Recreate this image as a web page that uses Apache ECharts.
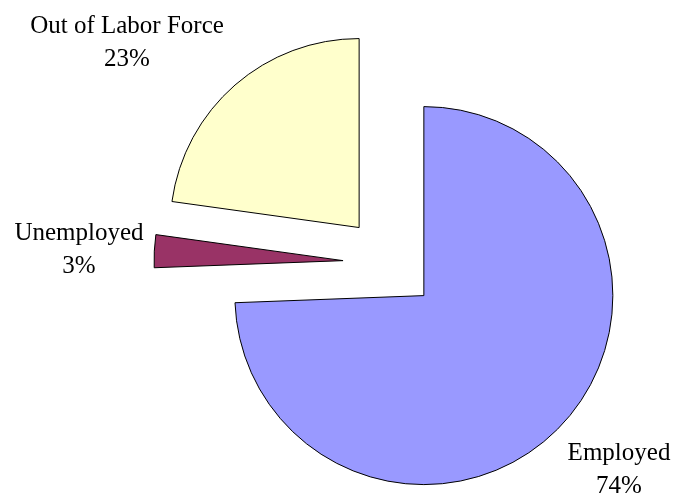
<!DOCTYPE html>
<html>
<head>
<meta charset="utf-8">
<script src="https://cdn.jsdelivr.net/npm/echarts@6/dist/echarts.min.js"></script>
<style>
  html, body { margin: 0; padding: 0; background: #fff; }
  #main { width: 675px; height: 496px; }
</style>
</head>
<body>
<div id="main"></div>
<script>
var categories = ['Employed', 'Unemployed', 'Out of Labor Force'];
var shares = [74.4, 2.8, 22.8];
var sliceColors = ['#9999ff', '#993366', '#ffffcc'];
// label block centers
var labelSpots = [[619, 470], [79, 250], [127, 43]];

var myChart = echarts.init(document.getElementById('main'));

var total = shares.reduce(function (a, b) { return a + b; }, 0);

var pieData = categories.map(function (name, i) {
    return {
        name: name,
        value: shares[i],
        selected: true,
        itemStyle: { color: sliceColors[i] }
    };
});

var labelTexts = categories.map(function (name, i) {
    return {
        type: 'text',
        x: labelSpots[i][0],
        y: labelSpots[i][1],
        silent: true,
        style: {
            text: name + '\n' + Math.round(shares[i] / total * 100) + '%',
            font: '25px "Liberation Serif", "Times New Roman", serif',
            lineHeight: 33,
            fill: '#000',
            align: 'center',
            verticalAlign: 'middle'
        }
    };
});

var option = {
    animation: false,
    graphic: labelTexts,
    series: [{
        type: 'pie',
        center: [390, 263],
        radius: 189,
        startAngle: 90,
        clockwise: true,
        selectedMode: 'multiple',
        selectedOffset: 47,
        data: pieData,
        itemStyle: {
            borderColor: '#000',
            borderWidth: 1
        },
        label: { show: false },
        labelLine: { show: false },
        emphasis: { disabled: true }
    }]
};

myChart.setOption(option);
</script>
</body>
</html>
